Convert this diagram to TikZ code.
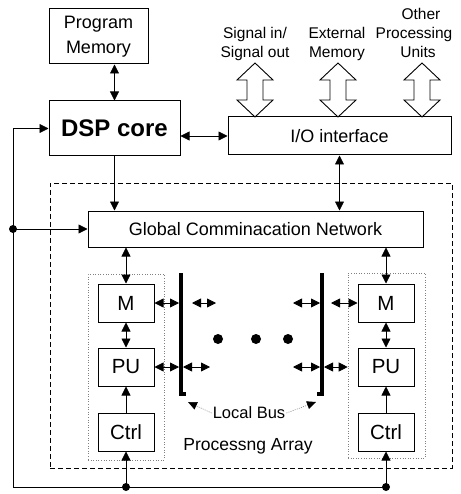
\documentclass[tikz,border=0pt]{standalone}
\usepackage{fontspec}
\setmainfont{Liberation Sans}
\usetikzlibrary{arrows.meta}
\begin{document}
\begin{tikzpicture}[x=1pt,y=-1pt,
  tip/.tip={Triangle[length=9pt,width=9pt]},
  box/.style={draw, line width=1pt, inner sep=0pt, align=center,
    font=\fontsize{18}{25}\selectfont},
  unit/.style={box, minimum width=56pt, minimum height=38pt,
    font=\fontsize{20.5}{22}\selectfont},
  group/.style={draw=gray, dotted, line width=0.6pt, inner sep=0pt},
  lbl/.style={anchor=base, inner sep=0pt, font=\fontsize{15.5}{19}\selectfont},
  link/.style={line width=0.8pt},
  dlink/.style={link, tip-tip},
  slink/.style={link, -tip},
  bus/.style={line width=4pt, line join=miter},
  dot/.style={circle, fill, inner sep=0pt, minimum size=8pt},
  bigdot/.style={circle, fill, inner sep=0pt, minimum size=10pt},
  leader/.style={draw=gray, dash pattern=on 1pt off 1.2pt, line width=0.6pt,
    -{Triangle[length=9pt,width=8pt,black]}},
  hollow/.style={draw, line width=0.9pt, fill=white, line join=miter}
]
\useasboundingbox (0,0) rectangle (460,494);

% main blocks
\node[box, minimum width=99pt, minimum height=55pt] (pm) at (98.5,36.5) {Program\\Memory};
\node[box, minimum width=131pt, minimum height=55pt,
  font=\fontsize{24}{28}\selectfont\bfseries] (dsp) at (114.5,128.5) {DSP core};
\node[box, minimum width=223pt, minimum height=38pt] (io) at (339.5,136) {I/O interface};

% processing array frame
\node[draw, dash pattern=on 5pt off 3pt, line width=0.9pt, inner sep=0pt,
  minimum width=402pt, minimum height=285pt] (arr) at (251,325.5) {};
\node[box, minimum width=335pt, minimum height=36pt] (gcn) at (255.5,229) {Global Comminacation Network};

% processing element groups
\node[group, minimum width=76pt, minimum height=186pt] (grp1) at (126,367) {};
\node[group, minimum width=77pt, minimum height=185pt] (grp2) at (386.5,365.5) {};
\node[unit] (m1) at (126,303) {M};
\node[unit] (pu1) at (126,367) {PU};
\node[unit] (ct1) at (126,432) {Ctrl};
\node[unit] (m2) at (386,303) {M};
\node[unit] (pu2) at (386,367) {PU};
\node[unit] (ct2) at (386,432) {Ctrl};

% external ports
\foreach \c in {255,338,422}{
  \draw[hollow] (\c,63) -- ++(18,17) -- ++(-10,0) -- ++(0,20) -- ++(10,0)
    -- (\c,117) -- ++(-18,-17) -- ++(10,0) -- ++(0,-20) -- ++(-10,0) -- cycle;
}
\node[lbl] (sig1) at (255,39) {Signal in/};
\node[lbl] (sig2) at (255,58) {Signal out};
\node[lbl] (ext1) at (337,39) {External};
\node[lbl] (ext2) at (337,58) {Memory};
\node[lbl] (oth1) at (421,20) {Other};
\node[lbl] (oth2) at (414,39) {Processing};
\node[lbl] (oth3) at (418,58) {Units};

% top level links
\draw[dlink] (pm.south -| dsp.north) -- (dsp.north);
\draw[dlink] (dsp.east |- io.west) -- (io.west);
\draw[slink] (dsp.south) -- (dsp.south |- gcn.north);
\draw[dlink] (io.south) -- (io.south |- gcn.north);

% network to memories, element internals
\draw[dlink] (gcn.south -| m1.north) -- (m1.north);
\draw[dlink] (gcn.south -| m2.north) -- (m2.north);
\draw[dlink] (m1.south) -- (pu1.north);
\draw[dlink] (m2.south) -- (pu2.north);
\draw[slink] (ct1.north) -- (pu1.south);
\draw[slink] (ct2.north) -- (pu2.south);

% control feedback loop
\node[dot] (d1) at (13,229) {};
\node[dot] (d2) at (126,487) {};
\node[dot] (d3) at (386,487) {};
\draw[slink] (d1.center) |- (dsp.west);
\draw[slink] (d1.center) -- (gcn.west);
\draw[link] (d1.center) |- (d3.center);
\draw[slink] (d2.center) -- (ct1.south);
\draw[slink] (d3.center) -- (ct2.south);

% local buses
\coordinate (b1t) at (181,273);
\coordinate (b1b) at (181,394);
\coordinate (b1f) at (186,394);
\coordinate (b2t) at (322,273);
\coordinate (b2b) at (322,394);
\coordinate (b2f) at (317,394);
\draw[bus] (b1t) -- (b1b) -- (b1f);
\draw[bus] (b2t) -- (b2b) -- (b2f);

% bus taps
\coordinate (l1a) at (179,303);
\coordinate (l1b) at (192,303);
\coordinate (l1c) at (216,303);
\coordinate (l2a) at (179,367);
\coordinate (l2b) at (183,367);
\coordinate (l2c) at (210,367);
\draw[dlink] (m1.east) -- (l1a);
\draw[dlink] (l1b) -- (l1c);
\draw[dlink] (pu1.east) -- (l2a);
\draw[dlink] (l2b) -- (l2c);
\coordinate (r1a) at (293,303);
\coordinate (r1b) at (320,303);
\coordinate (r1c) at (331,303);
\coordinate (r2a) at (293,367);
\coordinate (r2b) at (320,367);
\coordinate (r2c) at (324,367);
\draw[dlink] (r1a) -- (r1b);
\draw[dlink] (r1c) -- (m2.west);
\draw[dlink] (r2a) -- (r2b);
\draw[dlink] (r2c) -- (pu2.west -| grp2.west);

% further elements
\node[bigdot] (e1) at (218,339) {};
\node[bigdot] (e2) at (256,339) {};
\node[bigdot] (e3) at (288,339) {};

% labels
\node[inner sep=1pt, font=\fontsize{16.5}{20}\selectfont] (lb) at (249,413) {Local Bus};
\coordinate (lt1) at (188,402);
\coordinate (lt2) at (316,402);
\draw[leader] (lb.west) -- (lt1);
\draw[leader] (lb.east) -- (lt2);
\node[inner sep=0pt, font=\fontsize{17.5}{20}\selectfont] (pa) at (248,446) {Processng Array};
\end{tikzpicture}
\end{document}
